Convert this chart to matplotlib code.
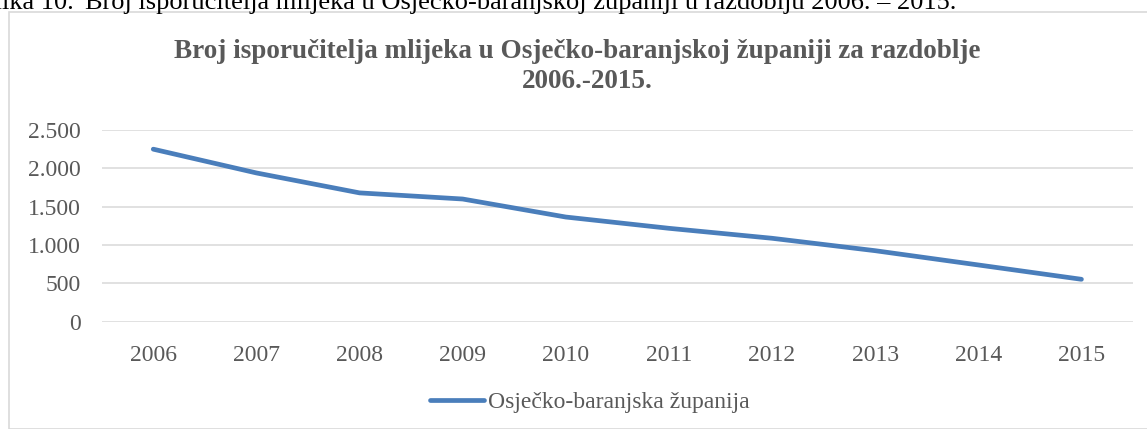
import matplotlib
matplotlib.use("Agg")
import matplotlib.pyplot as plt
from matplotlib.patches import Rectangle

years = ["2006", "2007", "2008", "2009", "2010", "2011", "2012", "2013", "2014", "2015"]
isporucitelji = [2250, 1940, 1680, 1600, 1365, 1218, 1088, 926, 740, 553]
y_ticks = [0, 500, 1000, 1500, 2000, 2500]
y_labels = ["0", "500", "1.000", "1.500", "2.000", "2.500"]

plt.rcParams['font.family'] = ['Liberation Serif', 'DejaVu Serif']
gray = '#595959'
blue = '#4a7ebb'

W, H = 1147, 429
fig = plt.figure(figsize=(W / 100, H / 100), dpi=100)

# chart frame
fig.patches.append(Rectangle((9 / W, 0), 1.2, 1 - 12 / H, transform=fig.transFigure,
                             fill=False, edgecolor='#d9d9d9', linewidth=1.2))

# caption above the chart (cut off at the top)
fig.text(74 / W, 1 - 9 / H, "Slika 10.", fontsize=19, color='black',
         va='baseline', ha='right')
fig.text(85 / W, 1 - 9 / H,
         "Broj isporučitelja mlijeka u Osječko-baranjskoj županiji u razdoblju 2006. – 2015.",
         fontsize=19, color='black', va='baseline', ha='left')

ax = fig.add_axes([101.7 / W, 1 - 321.7 / H, (1133 - 101.7) / W, (321.7 - 130) / H])
x = list(range(len(years)))
line, = ax.plot(x, isporucitelji, color=blue, linewidth=3.4, solid_capstyle='round',
                solid_joinstyle='round', label='Osječko-baranjska županija')
ax.set_xlim(-0.5, len(years) - 0.5)
ax.set_ylim(0, 2500)
ax.set_yticks(y_ticks)
ax.set_yticklabels(y_labels)
ax.set_xticks(x)
ax.set_xticklabels(years)
ax.grid(axis='y', color='#d9d9d9', linewidth=1.1)
ax.set_axisbelow(True)
for s in ax.spines.values():
    s.set_visible(False)
ax.tick_params(axis='both', length=0, labelsize=17, colors=gray, labelcolor=gray)
ax.tick_params(axis='y', pad=15)
ax.tick_params(axis='x', pad=17)

# chart title, two lines
fig.text(577 / W, 1 - 58 / H,
         "Broj isporučitelja mlijeka u Osječko-baranjskoj županiji za razdoblje",
         fontsize=19.5, fontweight='bold', color=gray, ha='center', va='baseline')
fig.text(587 / W, 1 - 88 / H, "2006.-2015.",
         fontsize=19.5, fontweight='bold', color=gray, ha='center', va='baseline')

leg = fig.legend(handles=[line], loc='center', bbox_to_anchor=(590 / W, 1 - 402 / H),
                 frameon=False, fontsize=17, handlelength=2.3, handletextpad=0.17,
                 labelcolor=gray)

fig.savefig("out.png", dpi=100)
